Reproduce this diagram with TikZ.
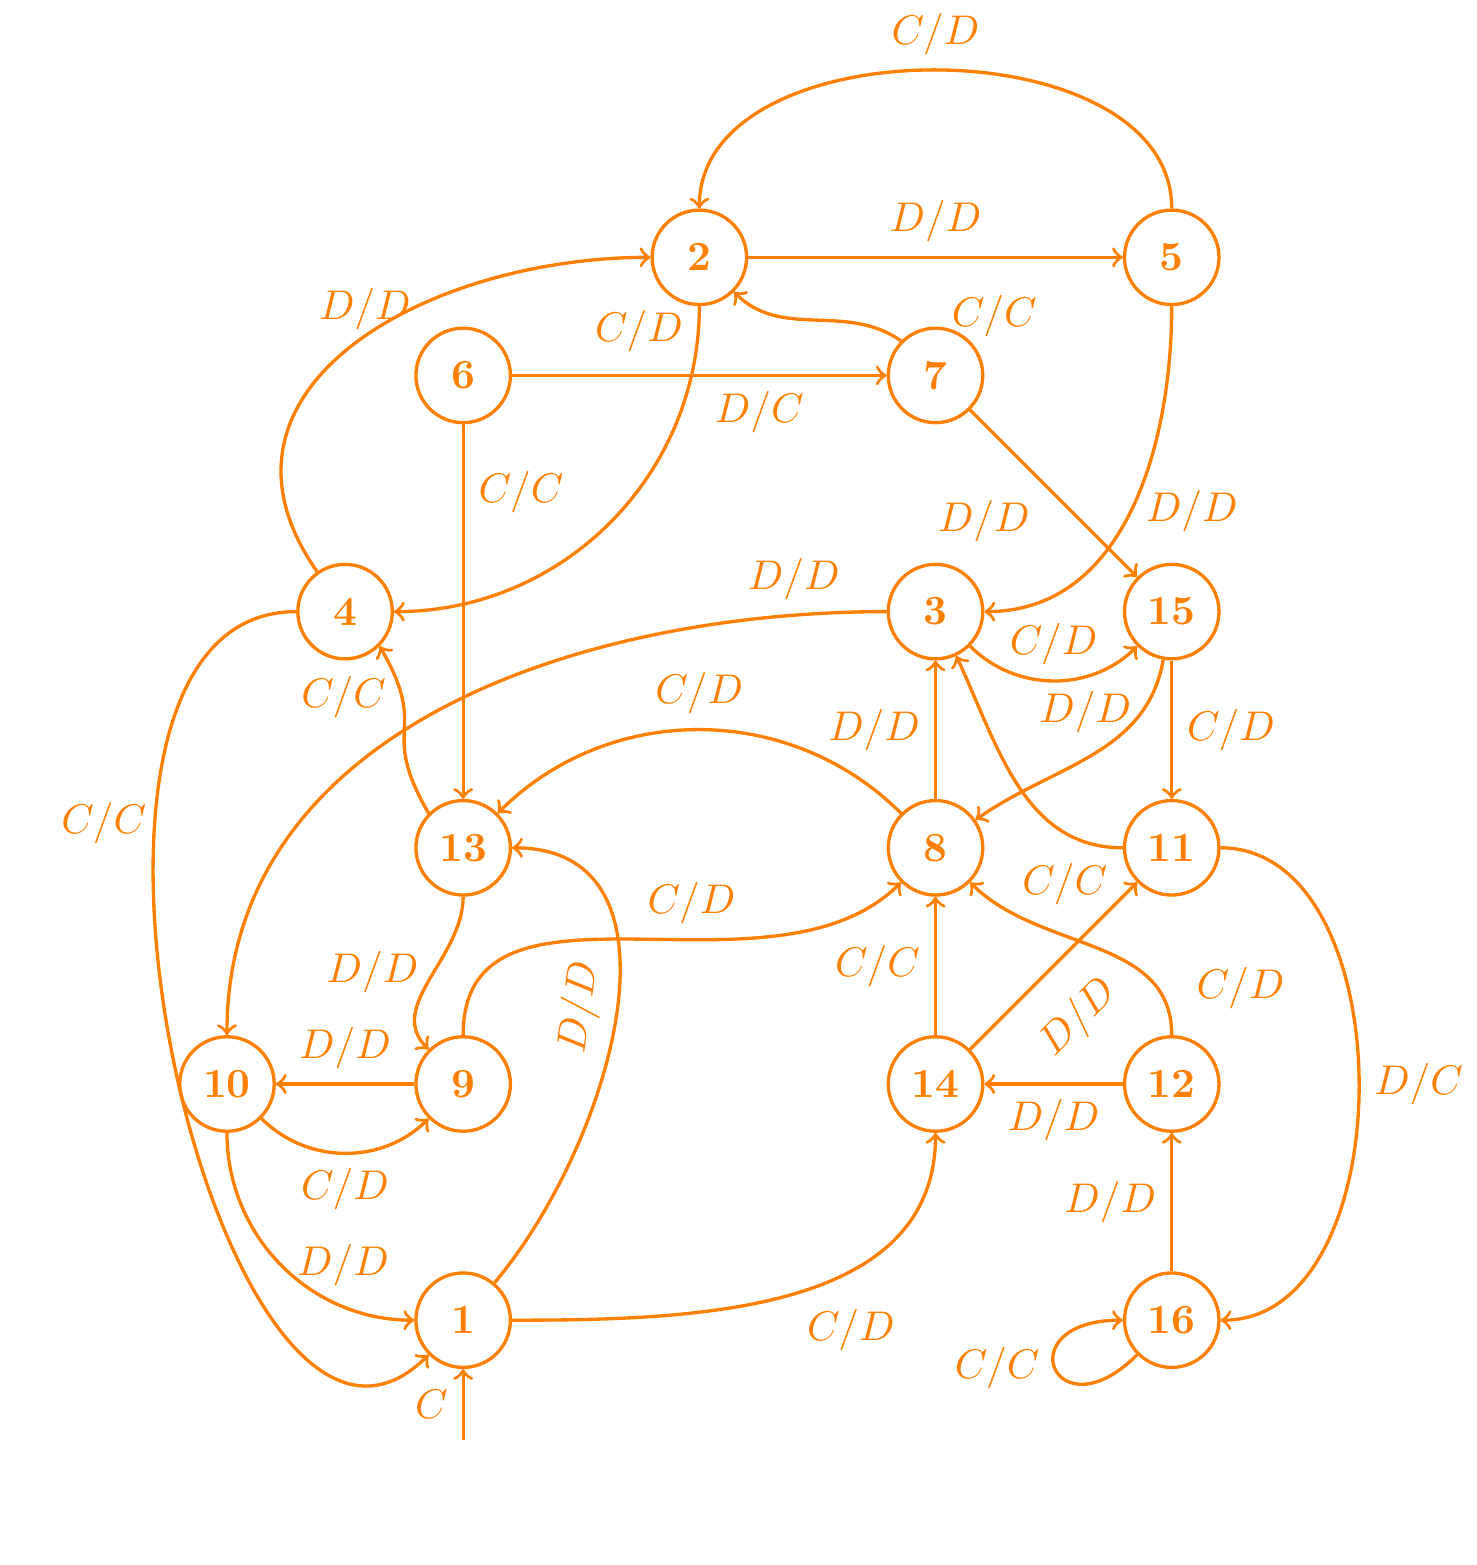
\documentclass[tikz,border=0pt]{standalone}
\begin{document}
\begin{tikzpicture}[thick,color=orange,st/.style={draw,circle,minimum size=0.8cm,inner sep=0pt,font=\bfseries}]
	\useasboundingbox (-1.922,-4.073) rectangle (10.584,9.179);
	% states
	\node[st] (s1) at (2,-2) {1};
	\node[st] (s2) at (4,7) {2};
	\node[st] (s3) at (6,4) {3};
	\node[st] (s4) at (1,4) {4};
	\node[st] (s5) at (8,7) {5};
	\node[st] (s6) at (2,6) {6};
	\node[st] (s7) at (6,6) {7};
	\node[st] (s8) at (6,2) {8};
	\node[st] (s9) at (2,0) {9};
	\node[st] (s10) at (0,0) {10};
	\node[st] (s11) at (8,2) {11};
	\node[st] (s12) at (8,0) {12};
	\node[st] (s13) at (2,2) {13};
	\node[st] (s14) at (6,0) {14};
	\node[st] (s15) at (8,4) {15};
	\node[st] (s16) at (8,-2) {16};
	% transitions
	\draw[->] (s5) to[out=90,in=90] node[above]{$C/D$} (s2);
	\draw[->] (s2) -- node[above]{$D/D$} (s5);
	\draw[->] (s7.north west) to[out=145,in=-45] node[pos=0,anchor=south west,xshift=3mm,yshift=-1mm]{$C/C$} (s2.south east);
	\draw[->] (s2) to[out=-90,in=0] node[pos=0.05,left]{$C/D$} (s4);
	\draw[->] (s4) to[out=125,in=180,looseness=1.25] node[above,xshift=1.1mm]{$D/D$} (s2);
	\draw[->] (s6) -- node[pos=0.66,below]{$D/C$} (s7);
	\draw[->] (s6) -- node[pos=0.18,right]{$C/C$} (s13);
	\draw[->] (s7) -- node[pos=0.45,below left]{$D/D$} (s15);
	\draw[->] (s5) to[out=-90,in=0] node[right]{$D/D$} (s3);
	\draw[->] (s3) to[out=180,in=90] node[pos=0.1,above]{$D/D$} (s10);
	\draw[->] (s3) to[out=-45,in=-135] node[above]{$C/D$} (s15);
	\draw[->] (s15) to[out=-100,in=35] node[pos=0.45,above,xshift=-1.5mm]{$D/D$} (s8);
	\draw[->] (s15) -- node[right]{$C/D$} (s11);
	\draw[->] (s11) to[out=180,in=-65] node[pos=0,below left]{$C/C$} (s3);
	\draw[->] (s8) -- node[left]{$D/D$} (s3);
	\draw[->] (s8) to[out=135,in=45] node[above]{$C/D$} (s13);
	\draw[->] (s13.north west) to[out=120,in=-60,looseness=1.5] node[pos=0.75,left]{$C/C$} (s4.south east);
	\draw[->] (s13) to[out=-90,in=135] node[pos=0.45,left]{$D/D$} (s9);
	\draw[->] (s9) -- node[above]{$D/D$} (s10);
	\draw[->] (s10) to[out=-45,in=-135] node[below]{$C/D$} (s9);
	\draw[->] (s10) to[out=-90,in=180] node[right]{$D/D$} (s1);
	\draw[->] (s4) to[out=180,in=-135] node[pos=0.31,left,xshift=0.6mm]{$C/C$} (s1);
	\draw[->] (s1) to[out=50,in=0,looseness=1.08] node[sloped,above]{$D/D$} (s13);
	\draw[->] (s9) to[out=90,in=-135] node[pos=0.6,above]{$C/D$} (s8);
	\draw[->] (s14) -- node[left]{$C/C$} (s8);
	\draw[->] (s14) -- node[pos=0.42,sloped,below=4.5pt]{$D/D$} (s11);
	\draw[->] (s12) to[out=90,in=-45] node[pos=0.2,right=2mm]{$C/D$} (s8);
	\draw[->] (s12) -- node[below]{$D/D$} (s14);
	\draw[->] (s16) -- node[left]{$D/D$} (s12);
	\draw[->] (s11) to[out=0,in=0] node[right]{$D/C$} (s16);
	\draw[->] (s1) to[out=0,in=-90] node[below right]{$C/D$} (s14);
	\draw[->] (s16) to[out=-135,in=180,looseness=8,min distance=9.5mm] node[left]{$C/C$} (s16);
	% start
	\coordinate (init) at (2,-3.016);
	\draw[->] (init) -- node[left]{$C$} (s1);
\end{tikzpicture}
\end{document}
